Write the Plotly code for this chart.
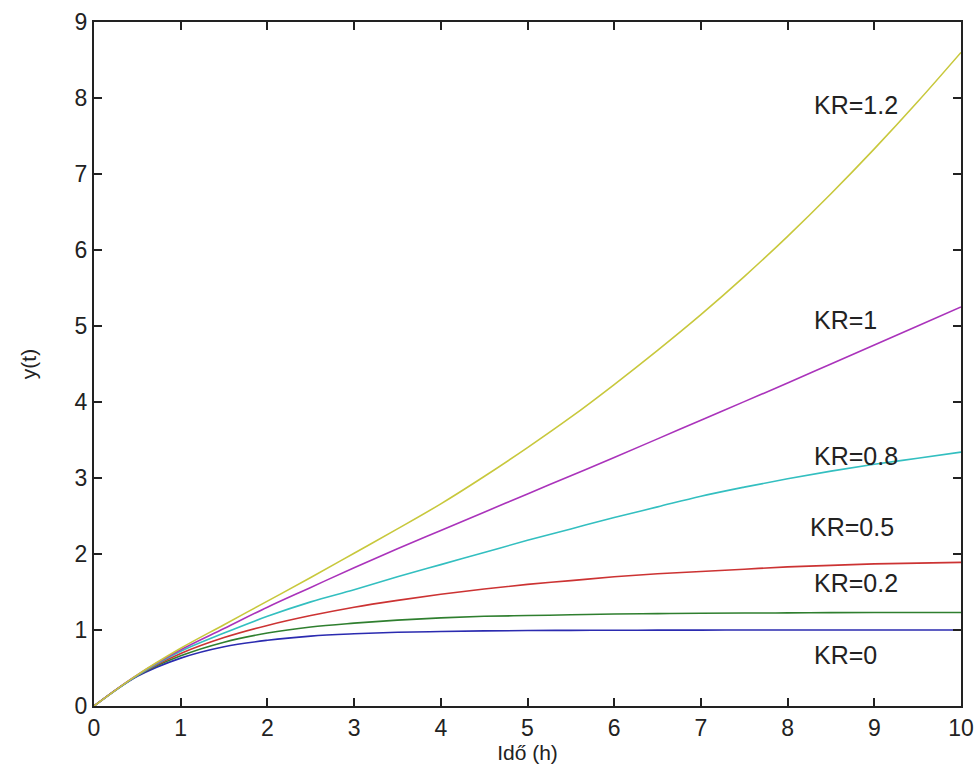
import plotly.graph_objects as go

t = [0, 0.5, 1, 1.5, 2, 2.5, 3, 3.5, 4, 4.5, 5, 5.5, 6, 6.5, 7, 7.5, 8, 8.5, 9, 9.5, 10]

kr0 = [0, 0.39, 0.63, 0.78, 0.865, 0.92, 0.95, 0.97, 0.98, 0.988, 0.993, 0.995, 0.997, 0.998, 0.999, 1.0, 1.0, 1.0, 1.0, 1.0, 1.0]
kr02 = [0, 0.40, 0.66, 0.84, 0.96, 1.04, 1.09, 1.13, 1.16, 1.18, 1.19, 1.20, 1.21, 1.215, 1.22, 1.223, 1.225, 1.228, 1.23, 1.23, 1.23]
kr05 = [0, 0.40, 0.69, 0.90, 1.06, 1.19, 1.30, 1.39, 1.47, 1.54, 1.60, 1.65, 1.70, 1.74, 1.77, 1.80, 1.83, 1.85, 1.87, 1.88, 1.89]
kr08 = [0, 0.40, 0.72, 0.96, 1.18, 1.37, 1.53, 1.70, 1.86, 2.02, 2.18, 2.33, 2.48, 2.62, 2.76, 2.88, 2.99, 3.09, 3.18, 3.26, 3.34]
kr1 = [0, 0.41, 0.74, 1.02, 1.30, 1.56, 1.82, 2.07, 2.31, 2.55, 2.79, 3.03, 3.27, 3.515, 3.76, 4.005, 4.25, 4.50, 4.75, 5.00, 5.25]
kr12 = [0, 0.41, 0.76, 1.07, 1.38, 1.69, 2.01, 2.33, 2.66, 3.02, 3.40, 3.80, 4.23, 4.68, 5.15, 5.65, 6.18, 6.74, 7.33, 7.95, 8.60]

series = [
    ("KR=0", kr0, "#2b2bb0"),
    ("KR=0.2", kr02, "#2f7f2f"),
    ("KR=0.5", kr05, "#cc3333"),
    ("KR=0.8", kr08, "#33bfc0"),
    ("KR=1", kr1, "#aa33bb"),
    ("KR=1.2", kr12, "#c8c83c"),
]

label_x = [8.28, 8.28, 8.24, 8.28, 8.28, 8.28]
label_y = [0.67, 1.62, 2.36, 3.29, 5.08, 7.91]

fig = go.Figure()
for (name, ys, col) in series:
    fig.add_trace(go.Scatter(x=t, y=ys, mode="lines", name=name,
                             line=dict(color=col, width=1.6, shape="spline", smoothing=1.0)))

for (name, ys, col), lx, ly in zip(series, label_x, label_y):
    fig.add_annotation(x=lx, y=ly, text=name, showarrow=False, xanchor="left", yanchor="middle",
                       font=dict(family="Liberation Sans", size=25, color="#222222"))

axis_common = dict(showline=True, linecolor="#222222", linewidth=2, mirror="ticks",
                   ticks="inside", ticklen=8, tickwidth=2, tickcolor="#222222",
                   showgrid=False, zeroline=False, automargin=False,
                   tickfont=dict(family="Liberation Sans", size=23, color="#222222"))

fig.update_xaxes(range=[0, 10], tickvals=list(range(0, 11)), **axis_common,
                 title=dict(text="Idő (h)", font=dict(family="Liberation Sans", size=21, color="#222222"),
                            standoff=0))
fig.update_yaxes(range=[0, 9], tickvals=list(range(0, 10)), **axis_common,
                 title=dict(text="y(t)", font=dict(family="Liberation Sans", size=21, color="#222222"),
                            standoff=32))

fig.update_layout(width=974, height=769, showlegend=False,
                  margin=dict(l=94, r=13, t=22, b=63),
                  plot_bgcolor="white", paper_bgcolor="white")

fig.write_html("out.html")
